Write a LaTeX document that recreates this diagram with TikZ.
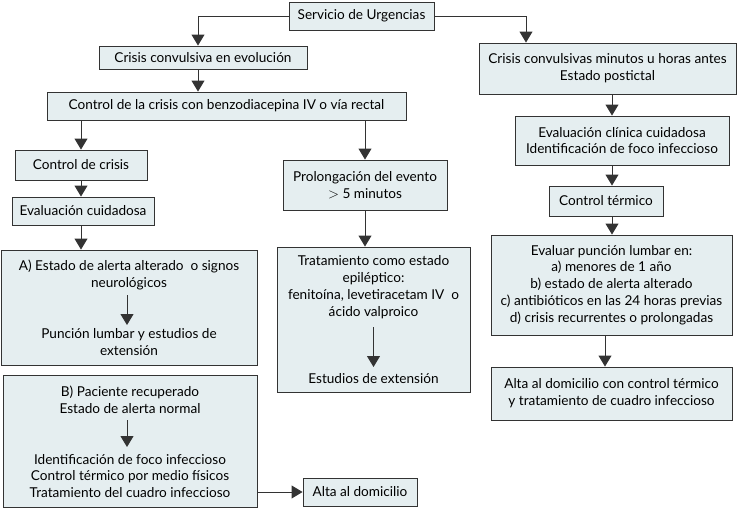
\documentclass[tikz,border=0pt]{standalone}
\usepackage{fontspec}
\setmainfont{Lato}
\usepackage{tikz}
\usetikzlibrary{positioning}
\usetikzlibrary{arrows.meta,calc}
\usepackage{xcolor}
\definecolor{cajafondo}{HTML}{E5EEF0}
\definecolor{linea}{HTML}{333333}

\begin{document}
\begin{tikzpicture}[x=1pt,y=-1pt,
  caja/.style={draw=linea,fill=cajafondo,line width=0.9pt,inner sep=0pt,align=center,font=\fontsize{13.6}{16.8}\selectfont},
  texto/.style={inner sep=0pt,align=center,font=\fontsize{13.6}{16.8}\selectfont},
  flecha/.style={draw=linea,line width=0.9pt,-{Triangle[width=13pt,length=11pt]}}]

\useasboundingbox (0,0) rectangle (737,509);

% columna izquierda
\node[caja,minimum width=145pt,minimum height=28pt] (urgencias) at (361.5,16) {Servicio de Urgencias};
\node[caja,minimum width=208pt,minimum height=23pt] (evolucion) at (203,57.5) {Crisis convulsiva en evolución};
\node[caja,minimum width=359pt,minimum height=28pt] (benzo) at (226.5,106) {Control de la crisis con benzodiacepina IV o vía rectal};
\node[caja,minimum width=132pt,minimum height=30pt] (control) at (81,165) {Control de crisis};
\node[caja,minimum width=142pt,minimum height=28pt] (evaluacion) at (83,211) {Evaluación cuidadosa};
\node[caja,minimum width=164pt,minimum height=50pt] (prolongacion) at (365,185) {Prolongación del evento\\${>}$ 5 minutos};

\node[caja,minimum width=256pt,minimum height=115pt] (cajaA) at (129,307.5) {};
\node[texto] (alerta) at (129,275) {A) Estado de alerta alterado\ \ o signos\\neurológicos};
\node[texto] (lumbar) at (129,342) {Punción lumbar y estudios de\\extensión};

\node[caja,minimum width=193pt,minimum height=145pt] (cajaT) at (373.5,319.5) {};
\node[texto] (tratamiento) at (373.5,287) {Tratamiento como estado\\epiléptico:\\fenitoína, levetiracetam IV\ \ o\\ácido valproico};
\node[texto] (estudios) at (373.5,379) {Estudios de extensión};

\node[caja,minimum width=254pt,minimum height=132pt] (cajaB) at (130,441) {};
\node[texto] (recuperado) at (130,400) {B) Paciente recuperado\\Estado de alerta normal};
\node[texto] (foco) at (130,476) {Identificación de foco infeccioso\\Control térmico por medio físicos\\Tratamiento del cuadro infeccioso};
\node[caja,minimum width=114pt,minimum height=28pt] (alta) at (360,492) {Alta al domicilio};

% columna derecha
\node[caja,minimum width=257pt,minimum height=51pt] (postictal) at (607.5,68.5) {Crisis convulsivas minutos u horas antes\\Estado postictal};
\node[caja,minimum width=214pt,minimum height=49pt] (clinica) at (622,140.5) {Evaluación clínica cuidadosa\\Identificación de foco infeccioso};
\node[caja,minimum width=114pt,minimum height=30pt] (termico) at (606,201) {Control térmico};
\node[caja,minimum width=241pt,minimum height=100pt] (puncion) at (611.5,285) {Evaluar punción lumbar en:\\a) menores de 1 año\\b) estado de alerta alterado\\c) antibióticos en las 24 horas previas\\d) crisis recurrentes o prolongadas};
\node[caja,minimum width=241pt,minimum height=53pt] (altacontrol) at (611.5,393.5) {Alta al domicilio con control térmico\\y tratamiento de cuadro infeccioso};

\draw[flecha] (urgencias.west) -| ([xshift=-5pt]evolucion.north);
\draw[flecha] (urgencias.east) -| ([xshift=-81.5pt]postictal.north);
\draw[flecha] ([xshift=-5pt]evolucion.south) -- ([xshift=-5pt]evolucion.south |- benzo.north);
\draw[flecha] (control.north |- benzo.south) -- (control.north);
\draw[flecha] (prolongacion.north |- benzo.south) -- (prolongacion.north);
\draw[flecha] (control.south) -- (control.south |- evaluacion.north);
\draw[flecha] (control.south |- evaluacion.south) -- (control.south |- cajaA.north);
\draw[flecha] (prolongacion.south) -- (prolongacion.south |- cajaT.north);
\draw[flecha] ([xshift=-2pt]alerta.south |- 0,295) -- ([xshift=-2pt]alerta.south |- 0,325);
\draw[flecha] (estudios.north |- 0,327) -- (estudios.north |- 0,367);
\draw[flecha] ([xshift=-3pt]recuperado.south |- 0,420) -- ([xshift=-3pt]recuperado.south |- 0,447);
\draw[flecha] (cajaB.east |- alta.west) -- (alta.west);

\draw[flecha] ([xshift=4.5pt]postictal.south) -- ([xshift=4.5pt]postictal.south |- clinica.north);
\draw[flecha] ([xshift=6pt]termico.north |- clinica.south) -- ([xshift=6pt]termico.north);
\draw[flecha] ([xshift=6pt]termico.south) -- ([xshift=6pt]termico.south |- puncion.north);
\draw[flecha] ([xshift=-6.5pt]puncion.south) -- ([xshift=-6.5pt]puncion.south |- altacontrol.north);

\end{tikzpicture}
\end{document}
